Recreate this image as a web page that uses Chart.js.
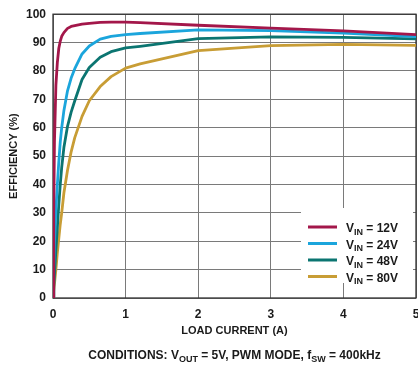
<!DOCTYPE html>
<html>
<head>
<meta charset="utf-8">
<script src="https://cdn.jsdelivr.net/npm/chart.js@4.4.0/dist/chart.umd.min.js"></script>
<style>
  html, body { margin: 0; padding: 0; background: #fff; }
</style>
</head>
<body>
<canvas id="effChart" width="418" height="366"></canvas>
<script>
// load current (A), shared by the four curves
const loadCurrent = [0, 0.01, 0.02, 0.04, 0.06, 0.08, 0.1, 0.12, 0.15, 0.2, 0.25, 0.3, 0.4, 0.5, 0.65, 0.8, 1, 1.2, 2, 3, 4, 5];

// efficiency (%) for each input voltage
const eff12V = [0, 30, 55, 75, 83, 88, 90.5, 92.2, 93.5, 95, 95.7, 96, 96.5, 96.8, 97.1, 97.2, 97.2, 97, 96.1, 95.1, 94.1, 92.8];
const eff24V = [0, 10, 19, 31, 40, 48, 55, 60, 66, 73, 77.5, 80.8, 86, 88.8, 91.2, 92.2, 92.8, 93.2, 94.5, 94.2, 93.3, 92.1];
const eff48V = [0, 4, 8, 17, 25, 33, 40, 46, 53, 60.5, 65.5, 69.5, 77, 81.2, 84.8, 86.8, 88.1, 88.7, 91.4, 92, 91.8, 91.3];
const eff80V = [0, 2.5, 5, 10, 16, 21, 26, 30, 37, 45, 51.5, 56.5, 64, 69.5, 74.5, 78, 81, 82.5, 87.2, 88.9, 89.4, 89];

const vinLabels = ['12V', '24V', '48V', '80V'];

const FONT = "'Liberation Sans', Arial, sans-serif";
const TEXT = '#1a1a1a';

const toPoints = (ys) => loadCurrent.map((x, i) => ({ x: x, y: ys[i] }));

// writes a run of text pieces, some of them as subscripts
function drawParts(ctx, parts, x, y, align) {
  const main = 'bold 12px ' + FONT;
  const sub = 'bold 9px ' + FONT;
  let total = 0;
  parts.forEach(p => {
    ctx.font = p[1] ? sub : main;
    total += ctx.measureText(p[0]).width;
  });
  let cx = align === 'center' ? x - total / 2 : x;
  ctx.textAlign = 'left';
  ctx.textBaseline = 'middle';
  ctx.fillStyle = TEXT;
  parts.forEach(p => {
    ctx.font = p[1] ? sub : main;
    ctx.fillText(p[0], cx, p[1] ? y + 3.5 : y);
    cx += ctx.measureText(p[0]).width;
  });
}

// dark frame around the plot and legend box in the lower right
const frameAndLegend = {
  id: 'frameAndLegend',
  beforeDatasetsDraw(chart) {
    const { ctx, chartArea } = chart;
    ctx.save();
    ctx.strokeStyle = '#333';
    ctx.lineWidth = 1.3;
    ctx.strokeRect(chartArea.left, chartArea.top, chartArea.right - chartArea.left, chartArea.bottom - chartArea.top);

    const bx = chartArea.right - 115;
    const by = chartArea.bottom - 90;
    ctx.fillStyle = '#fff';
    ctx.fillRect(bx, by, 112, 75);
    chart.data.datasets.forEach((ds, i) => {
      const y = by + 19 + i * 16.5;
      ctx.strokeStyle = ds.borderColor;
      ctx.lineWidth = 3;
      ctx.beginPath();
      ctx.moveTo(bx + 7, y);
      ctx.lineTo(bx + 36, y);
      ctx.stroke();
      drawParts(ctx, [['V'], ['IN', true], [' = ' + ds.label]], bx + 45, y + 2, 'left');
    });
    ctx.restore();
  },
  afterDraw(chart) {
    const { ctx, chartArea } = chart;
    ctx.save();
    drawParts(ctx, [['CONDITIONS: V'], ['OUT', true], [' = 5V, PWM MODE, f'], ['SW', true], [' = 400kHz']],
      (chartArea.left + chartArea.right) / 2, 356, 'center');
    ctx.restore();
  }
};

const colors = ['#a3174a', '#1ba5dc', '#0b7571', '#c89d35'];
const series = [eff12V, eff24V, eff48V, eff80V];

new Chart(document.getElementById('effChart').getContext('2d'), {
  type: 'line',
  data: {
    datasets: series.map((s, i) => ({
      label: vinLabels[i],
      data: toPoints(s),
      borderColor: colors[i],
      borderWidth: 2.8,
      pointRadius: 0,
      tension: 0,
      borderCapStyle: 'round',
      borderJoinStyle: 'round',
      fill: false
    }))
  },
  options: {
    responsive: false,
    animation: false,
    layout: { padding: { left: 7, right: 2, top: 9, bottom: 28 } },
    plugins: {
      legend: { display: false },
      tooltip: { enabled: false }
    },
    scales: {
      x: {
        type: 'linear',
        min: 0,
        max: 5,
        ticks: { stepSize: 1, padding: 9, color: TEXT, font: { family: FONT, size: 12, weight: 'bold' } },
        grid: { color: '#7a7a7a', lineWidth: 1, drawTicks: false },
        border: { display: false },
        title: { display: true, text: 'LOAD CURRENT (A)', color: TEXT, padding: 0, font: { family: FONT, size: 11, weight: 'bold' } },
        afterFit(scale) {
          scale.height = 40;
          scale.paddingLeft = 0;
          scale.paddingRight = 0;
        }
      },
      y: {
        min: 0,
        max: 100,
        ticks: { stepSize: 10, padding: 7, color: TEXT, font: { family: FONT, size: 12, weight: 'bold' } },
        grid: { color: '#7a7a7a', lineWidth: 1, drawTicks: false },
        border: { display: false },
        title: { display: true, text: 'EFFICIENCY (%)', color: TEXT, padding: 0, font: { family: FONT, size: 11, weight: 'bold' } },
        afterFit(scale) {
          scale.width = 46;
        }
      }
    }
  },
  plugins: [frameAndLegend]
});
</script>
</body>
</html>
